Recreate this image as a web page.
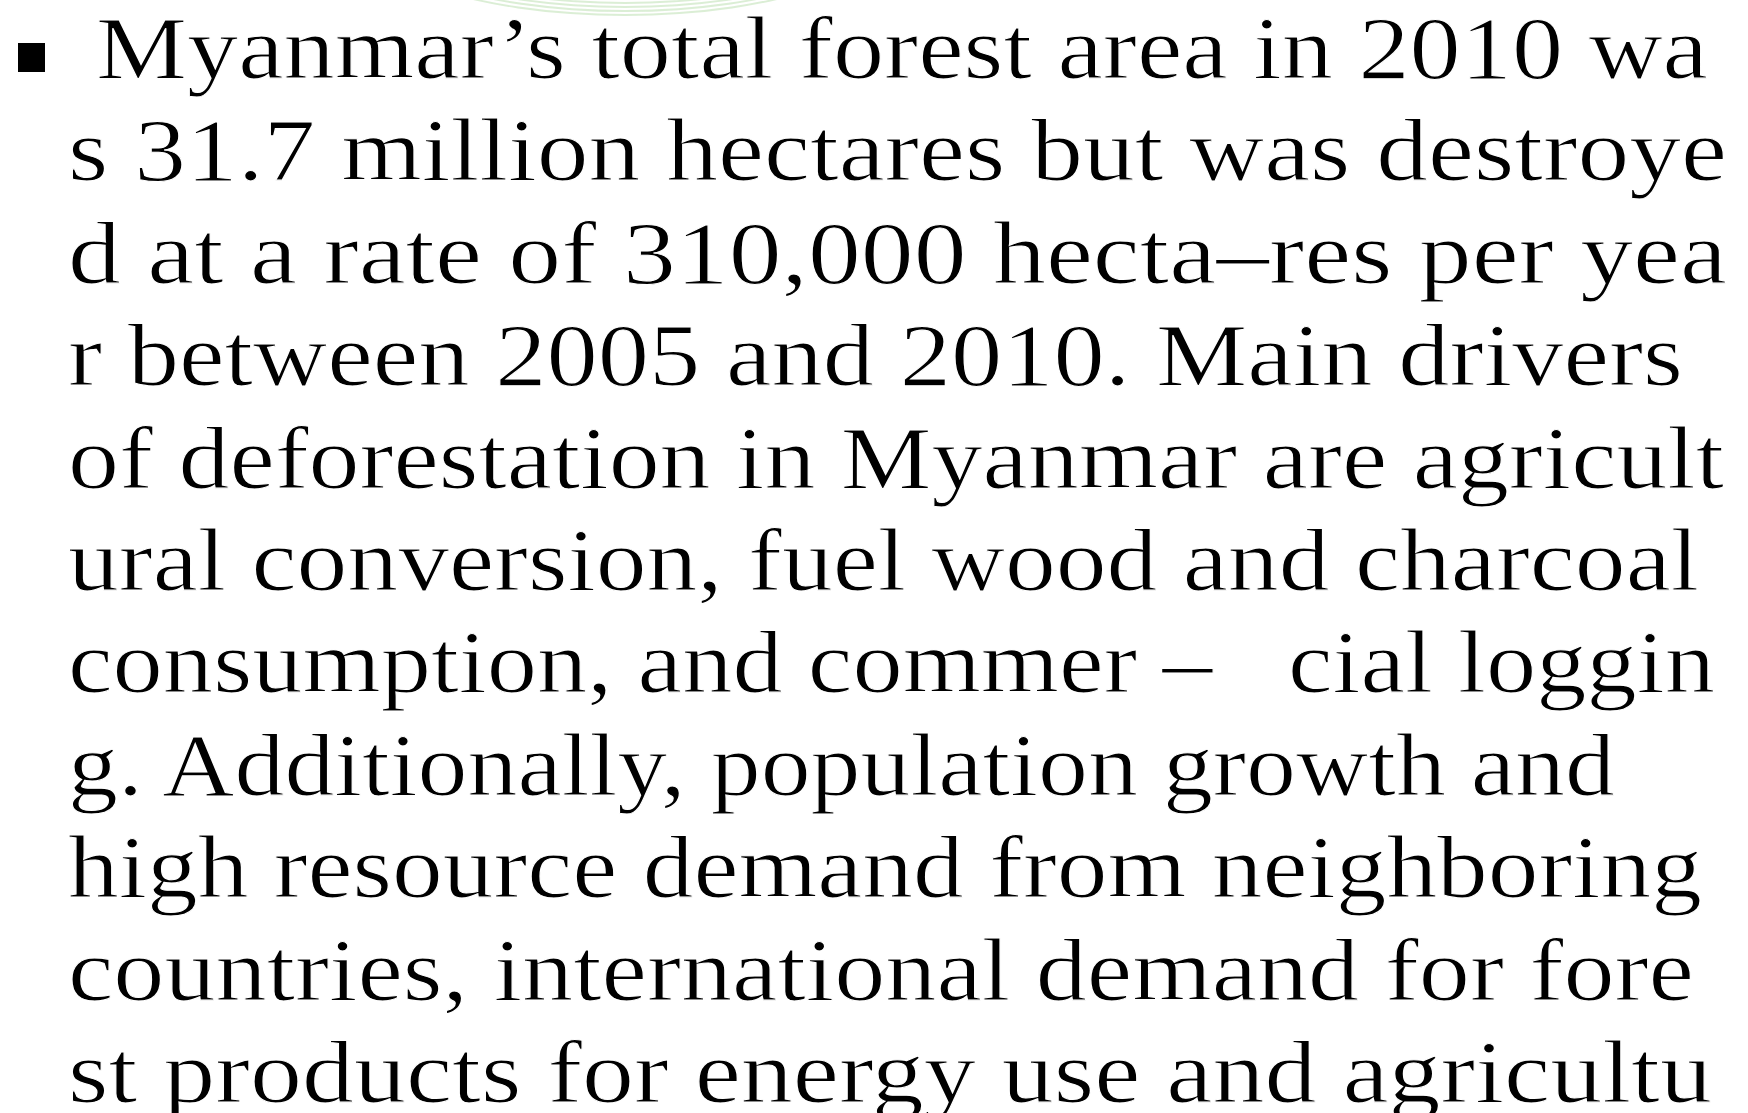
<!DOCTYPE html>
<html>
<head>
<meta charset="utf-8">
<script src="https://cdn.jsdelivr.net/npm/chart.js@4.4.0/dist/chart.umd.min.js"></script>
<style>
  html, body { margin: 0; padding: 0; background: #ffffff; }
  #stage { position: relative; width: 1748px; height: 1113px; overflow: hidden; background: #fff; }
  .ring { position: absolute; border-radius: 50%; border: 2px solid rgba(165, 212, 150, 0.4); box-sizing: border-box; }
  svg { position: absolute; left: 0; top: 0; }
  .bullet { position: absolute; left: 18px; top: 43px; width: 27px; height: 29px; background: #000; }
</style>
</head>
<body>
<div id="stage">
  <div id="rings"></div>
  <div class="bullet"></div>
  <svg id="txt" width="1748" height="1113" xmlns="http://www.w3.org/2000/svg"></svg>
</div>
<script>
// Text content of the slide, one entry per rendered line (the original wraps mid-word)
const lines = [
  "Myanmar\u2019s total forest area in 2010 wa",
  "s 31.7 million hectares but was destroye",
  "d at a rate of 310,000 hecta\u2013res per yea",
  "r between 2005 and 2010. Main drivers",
  "of deforestation in Myanmar are agricult",
  "ural conversion, fuel wood and charcoal",
  "consumption, and commer \u2013\u00a0\u00a0\u00a0cial loggin",
  "g. Additionally, population growth and",
  "high resource demand from neighboring",
  "countries, international demand for fore",
  "st products for energy use and agricultu"
];

// layout
const lineLeft = [96, 68, 68, 68, 68, 68, 68, 68, 68, 68, 68];
const lineRight = [1708, 1727, 1727, 1683, 1724, 1699, 1715, 1615, 1702, 1694, 1712];
const firstBaseline = 78, pitch = 102.4;

const svg = document.getElementById('txt');
const NS = 'http://www.w3.org/2000/svg';
lines.forEach((s, i) => {
  const t = document.createElementNS(NS, 'text');
  t.setAttribute('x', lineLeft[i]);
  t.setAttribute('y', firstBaseline + pitch * i);
  t.setAttribute('font-family', "'Liberation Serif', 'DejaVu Serif', serif");
  t.setAttribute('font-size', '89');
  t.setAttribute('fill', '#000');
  t.setAttribute('stroke', '#fff');
  t.setAttribute('stroke-width', '1.1');
  t.setAttribute('textLength', lineRight[i] - lineLeft[i]);
  t.setAttribute('lengthAdjust', 'spacingAndGlyphs');
  t.setAttribute('xml:space', 'preserve');
  t.textContent = s;
  svg.appendChild(t);
});

// faint decorative rings at the top (slide background ornament)
const rings = document.getElementById('rings');
[0, 4, 8, 12, 16, 20].forEach(d => {
  const r = document.createElement('div');
  r.className = 'ring';
  const w = 560 - d * 4, h = 200 - d * 2;
  r.style.width = w + 'px';
  r.style.height = h + 'px';
  r.style.left = (625 - w / 2) + 'px';
  r.style.top = (16 - d - h) + 'px';
  rings.appendChild(r);
});
</script>
</body>
</html>
